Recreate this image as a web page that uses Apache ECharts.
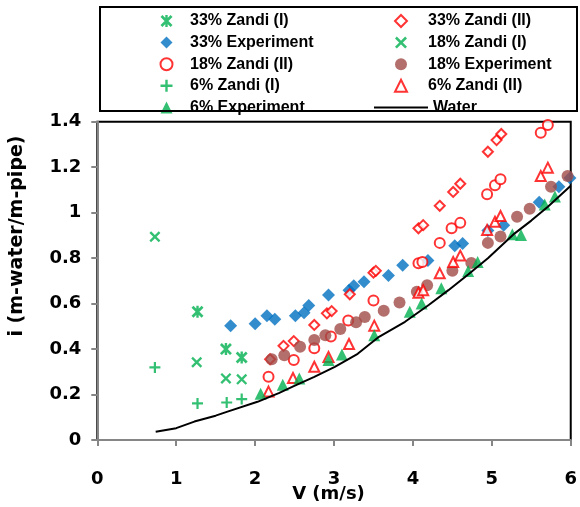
<!DOCTYPE html>
<html>
<head>
<meta charset="utf-8">
<script src="https://cdn.jsdelivr.net/npm/echarts@6/dist/echarts.min.js"></script>
<style>
html,body{margin:0;padding:0;background:#fff;}
#chart{width:580px;height:507px;}
</style>
</head>
<body>
<div id="chart"></div>
<script>
// ---- data (V m/s, i m-water/m-pipe) ----
var zandi33I = [[1.27,0.564],[1.63,0.40],[1.83,0.363]];
var exp33 = [[1.69,0.503],[2.00,0.511],[2.15,0.547],[2.25,0.531],[2.51,0.547],[2.62,0.56],[2.68,0.592],[2.93,0.638],[3.19,0.659],[3.25,0.678],[3.38,0.696],[3.69,0.723],[3.87,0.769],[4.19,0.789],[4.53,0.854],[4.63,0.864],[4.95,0.921],[5.15,0.945],[5.60,1.046],[5.85,1.114],[5.99,1.152]];
var zandi33II = [[2.19,0.355],[2.36,0.414],[2.49,0.435],[2.75,0.506],[2.91,0.557],[2.97,0.567],[3.20,0.641],[3.50,0.736],[3.53,0.744],[4.07,0.931],[4.13,0.945],[4.34,1.03],[4.51,1.091],[4.60,1.127],[4.95,1.268],[5.06,1.319],[5.12,1.346]];
var zandi18I = [[0.73,0.894],[1.26,0.342],[1.63,0.271],[1.83,0.267]];
var zandi18II = [[2.17,0.278],[2.49,0.352],[2.75,0.404],[2.96,0.455],[3.18,0.526],[3.50,0.614],[4.07,0.777],[4.12,0.783],[4.34,0.867],[4.49,0.931],[4.60,0.955],[4.94,1.081],[5.04,1.121],[5.11,1.147],[5.62,1.351],[5.71,1.385]];
var exp18 = [[2.21,0.355],[2.37,0.373],[2.57,0.41],[2.75,0.44],[2.89,0.461],[3.08,0.488],[3.28,0.518],[3.39,0.541],[3.63,0.569],[3.83,0.605],[4.05,0.652],[4.18,0.681],[4.50,0.744],[4.74,0.779],[4.95,0.867],[5.11,0.895],[5.32,0.982],[5.48,1.017],[5.75,1.114],[5.96,1.161]];
var zandi6I = [[0.73,0.319],[1.27,0.161],[1.64,0.165],[1.83,0.18]];
var zandi6II = [[2.17,0.213],[2.48,0.273],[2.75,0.322],[2.93,0.365],[3.19,0.422],[3.51,0.503],[4.07,0.648],[4.13,0.659],[4.34,0.733],[4.51,0.783],[4.60,0.811],[4.94,0.924],[5.04,0.96],[5.11,0.985],[5.62,1.161],[5.71,1.198]];
var exp6 = [[2.07,0.203],[2.35,0.243],[2.56,0.271],[2.93,0.352],[3.10,0.376],[3.51,0.461],[3.96,0.564],[4.11,0.60],[4.36,0.667],[4.70,0.743],[4.82,0.783],[5.26,0.905],[5.37,0.902],[5.67,1.036],[5.80,1.071]];
var water = [[0.74,0.036],[1.0,0.052],[1.23,0.081],[1.5,0.107],[1.65,0.125],[2.03,0.168],[2.30,0.206],[2.49,0.237],[2.75,0.278],[3.01,0.322],[3.3,0.379],[3.57,0.454],[3.9,0.52],[4.20,0.594],[4.45,0.659],[4.7,0.728],[4.95,0.799],[5.29,0.909],[5.5,0.965],[5.71,1.026],[6.0,1.118]];

var legendCol1 = ['33% Zandi (I)','33% Experiment','18% Zandi (II)','6% Zandi (I)','6% Experiment'];
var legendCol2 = ['33% Zandi (II)','18% Zandi (I)','18% Experiment','6% Zandi (II)'];
var legendLine = ['Water'];
var xTitle = 'V (m/s)';
var yTitle = 'i (m-water/m-pipe)';

var GREEN = '#00B050', BLUE = '#0070C0', RED = '#FF0000', BROWN = '#A04B47';
var PLUS = 'path://M4,0H6V4H10V6H6V10H4V6H0V4H4Z';
var XMARK = 'path://M0,1.5L1.5,0L10,8.5L8.5,10Z M8.5,0L10,1.5L1.5,10L0,8.5Z';
var STAR = 'path://M0,1.6L1.6,0L10,8.4L8.4,10Z M8.4,0L10,1.6L1.6,10L0,8.4Z M4,0H6V10H4Z';

function sc(name, data, symbol, size, style) {
  return {name: name, type: 'scatter', data: data, symbol: symbol, symbolSize: size, itemStyle: style, z: 3};
}
var hollow = {color: '#fff', borderColor: RED, borderWidth: 2};

var labelFont = {fontFamily: 'DejaVu Sans', fontWeight: 'bold', fontSize: 18, color: '#000'};
var legendText = {fontFamily: 'Liberation Sans', fontWeight: 'bold', fontSize: 16, color: '#000', lineHeight: 16};

var chart = echarts.init(document.getElementById('chart'), null, {renderer: 'canvas'});
chart.setOption({
  animation: false,
  backgroundColor: '#fff',
  grid: {left: 97.3, right: 6.5, top: 121.7, bottom: 67, show: true, borderColor: '#000', borderWidth: 2, backgroundColor: 'transparent'},
  xAxis: {
    type: 'value', min: 0, max: 6, interval: 1,
    axisLine: {lineStyle: {color: '#868686', width: 2}},
    axisTick: {show: true, inside: false, length: 6, lineStyle: {color: '#868686', width: 2}},
    splitLine: {show: false},
    axisLabel: Object.assign({margin: 30}, labelFont)
  },
  yAxis: {
    type: 'value', min: 0, max: 1.4, interval: 0.2,
    axisLine: {show: true, lineStyle: {color: '#868686', width: 2}},
    axisTick: {show: true, inside: false, length: 6, lineStyle: {color: '#868686', width: 2}},
    splitLine: {show: false},
    axisLabel: Object.assign({margin: 16, formatter: function (v) { return String(parseFloat(v.toFixed(1))); }}, labelFont)
  },
  legend: [
    {data: legendCol1, orient: 'vertical', left: 154.5, top: 8, itemWidth: 12, itemHeight: 12, itemGap: 5.6, selectedMode: false, symbolKeepAspect: true,
     textStyle: Object.assign({padding: [0, 0, 0, 12.5]}, legendText)},
    {data: legendCol2, orient: 'vertical', left: 389, top: 8, itemWidth: 12, itemHeight: 12, itemGap: 5.6, selectedMode: false, symbolKeepAspect: true,
     textStyle: Object.assign({padding: [0, 0, 0, 16]}, legendText)},
    {data: legendLine, orient: 'vertical', left: 369, top: 94.4, itemWidth: 54, itemHeight: 2, icon: 'rect', selectedMode: false,
     itemStyle: {color: '#000'}, textStyle: legendText}
  ],
  graphic: [
    {type: 'rect', shape: {x: 100, y: 7, width: 477, height: 104}, style: {fill: 'none', stroke: '#000', lineWidth: 2}, z: 10},
    {type: 'text', x: 328.5, y: 494, style: {text: xTitle, font: 'bold 18px "DejaVu Sans"', fill: '#000', align: 'center', verticalAlign: 'middle'}},
    {type: 'text', x: 17.5, y: 236, rotation: Math.PI / 2, style: {text: yTitle, font: 'bold 19px "DejaVu Sans"', fill: '#000', align: 'center', verticalAlign: 'middle'}}
  ],
  series: [
    sc('33% Zandi (I)', zandi33I, STAR, 12, {color: GREEN}),
    sc('33% Experiment', exp33, 'diamond', 13, {color: BLUE}),
    sc('33% Zandi (II)', zandi33II, 'diamond', 10, hollow),
    sc('18% Zandi (I)', zandi18I, XMARK, 11, {color: GREEN}),
    sc('18% Zandi (II)', zandi18II, 'circle', 10, hollow),
    sc('18% Experiment', exp18, 'circle', 12, {color: BROWN}),
    sc('6% Zandi (I)', zandi6I, PLUS, 11, {color: GREEN}),
    sc('6% Zandi (II)', zandi6II, 'triangle', 10, hollow),
    sc('6% Experiment', exp6, 'triangle', 12, {color: GREEN}),
    {name: 'Water', type: 'line', data: water, symbol: 'none', smooth: false, lineStyle: {color: '#000', width: 2}, itemStyle: {color: '#000'}, z: 4}
  ]
});
</script>
</body>
</html>
